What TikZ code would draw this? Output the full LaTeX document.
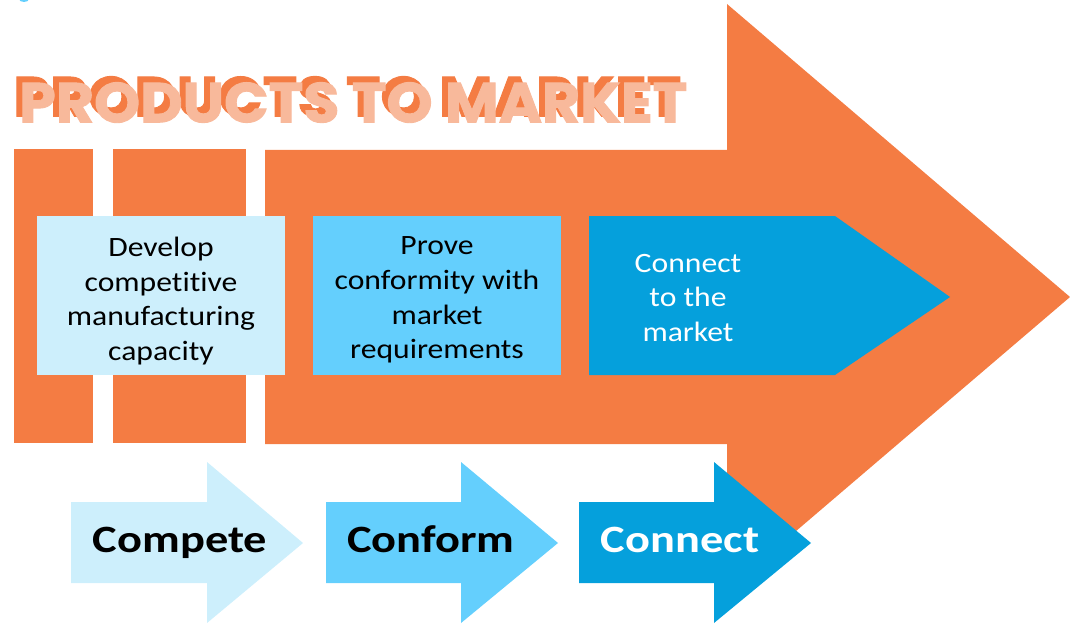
\documentclass[tikz,border=0pt]{standalone}
\usepackage{fontspec}
\setmainfont{Carlito}[Ligatures=NoCommon]
\newfontfamily\titlefont{Poppins}[BoldFeatures={FakeBold=1.6}]
\usepackage{graphicx}
\usepackage{xcolor}
\usetikzlibrary{positioning}

\definecolor{mktorange}{HTML}{F47C43}
\definecolor{titlelight}{HTML}{F8B99B}
\definecolor{stepone}{HTML}{CDEFFC}
\definecolor{steptwo}{HTML}{64CFFD}
\definecolor{stepthree}{HTML}{05A0DC}

\begin{document}
\begin{tikzpicture}[x=0.75pt, y=0.75pt,
    boxtext/.style={align=center, inner sep=0pt, font=\fontsize{21}{26}\selectfont, xscale=1.13, transform shape},
    steptext/.style={anchor=base, inner sep=0pt, font=\fontsize{29}{34}\selectfont\bfseries, xscale=1.2, transform shape}]
    \useasboundingbox (0,0) rectangle (1070,-624);

    % Small mark at the top edge
    \fill[steptwo] (24,1) ellipse (5 and 3);

    % Big orange arrow with the two stripes in front of it
    \fill[mktorange] (265,-150) -- (727,-150) -- (727,-4) -- (1070,-297) -- (727,-590) -- (727,-444) -- (265,-444) -- cycle;
    \fill[mktorange] (14,-149) rectangle (93,-443);
    \fill[mktorange] (113,-149) rectangle (246,-443);

    % Title with its shadow
    \node[anchor=south west, inner sep=0pt, text=mktorange] (titleshadow) at (13,-117)
    {\resizebox{501pt}{30pt}{\titlefont\bfseries PRODUCTS TO MARKET}};
    \node[anchor=south west, inner sep=0pt, text=titlelight] (title) at (19,-123)
    {\resizebox{501pt}{30pt}{\titlefont\bfseries PRODUCTS TO MARKET}};

    % The three boxes inside the arrow
    \fill[stepone] (37,-216) rectangle (285,-375);
    \node[boxtext] (develop) at (161,-301) {Develop\\competitive\\manufacturing\\capacity};

    \fill[steptwo] (313,-216) rectangle (561,-375);
    \node[boxtext] (prove) at (437,-300) {Prove\\conformity with\\market\\requirements};

    \fill[stepthree] (589,-216) -- (835,-216) -- (950,-297) -- (835,-375) -- (589,-375) -- cycle;
    \node[boxtext, text=white] (market) at (688,-298) {Connect\\to the\\market};

    % Step arrows along the bottom
    \fill[stepone] (71,-502) -- (207,-502) -- (207,-462) -- (303,-543) -- (207,-623) -- (207,-583) -- (71,-583) -- cycle;
    \node[steptext] (compete) at (180,-552) {Compete};

    \fill[steptwo] (326,-502) -- (461,-502) -- (461,-462) -- (558,-543) -- (461,-623) -- (461,-583) -- (326,-583) -- cycle;
    \node[steptext] (conform) at (431,-552) {Conform};

    \fill[stepthree] (579,-502) -- (714,-502) -- (714,-462) -- (811,-543) -- (714,-623) -- (714,-583) -- (579,-583) -- cycle;
    \node[steptext, text=white] (connect) at (680,-552) {Connect};
\end{tikzpicture}
\end{document}
